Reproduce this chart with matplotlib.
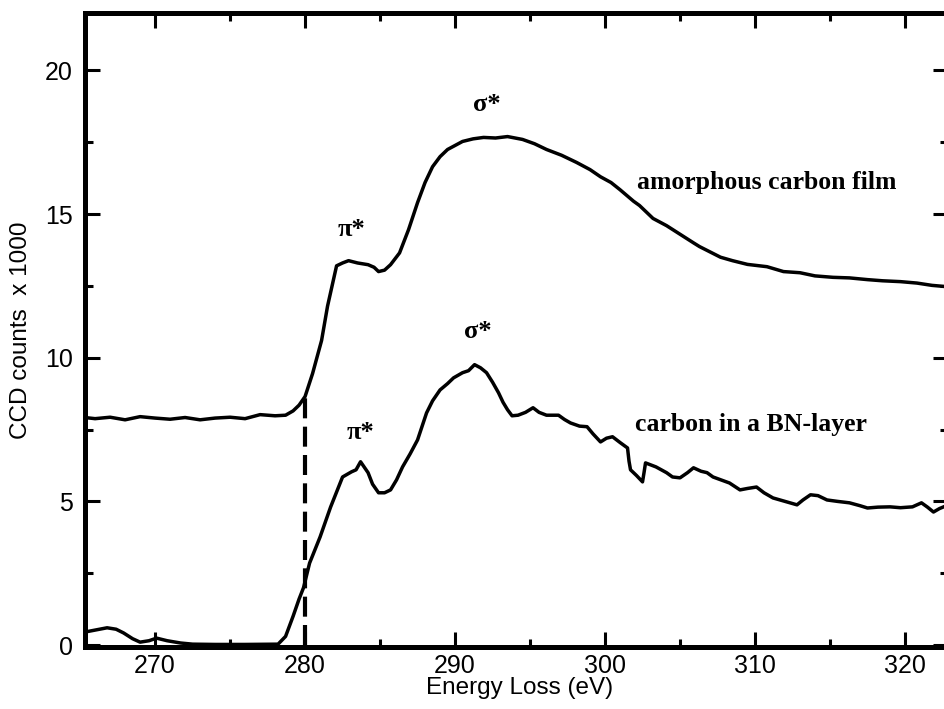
import numpy as np
from matplotlib import pyplot as plt
from matplotlib.ticker import MultipleLocator

plt.rcParams['font.family'] = ['Liberation Sans', 'DejaVu Sans']

# amorphous carbon film (upper curve), energy in eV, counts in 1000
ac_energy = [265.3, 266.0, 267.0, 268.0, 269.0, 270.0, 271.0, 272.0, 273.0, 274.0,
             275.0, 276.0, 277.0, 278.0, 278.7, 279.2, 279.6, 280.0, 280.5, 281.1,
             281.5, 281.8, 282.1, 282.5, 282.9, 283.5, 284.2, 284.6, 284.9, 285.3,
             285.7, 286.3, 286.9, 287.5, 288.0, 288.5, 289.0, 289.5, 290.5, 291.2,
             291.9, 292.7, 293.5, 294.5, 295.3, 296.1, 297.1, 298.1, 299.0, 299.7,
             300.4, 301.0, 301.9, 302.3, 303.2, 304.1, 305.0, 305.9, 306.3, 307.7,
             308.5, 309.5, 310.8, 311.9, 313.0, 314.0, 315.2, 316.3, 317.5, 318.5,
             319.7, 320.8, 321.8, 322.9]
ac_counts = [7.92, 7.88, 7.93, 7.84, 7.95, 7.90, 7.86, 7.92, 7.84, 7.90,
             7.93, 7.88, 8.02, 7.98, 8.00, 8.15, 8.35, 8.65, 9.45, 10.6,
             11.8, 12.5, 13.2, 13.3, 13.38, 13.3, 13.24, 13.15, 13.0, 13.05,
             13.24, 13.65, 14.46, 15.4, 16.1, 16.65, 17.0, 17.25, 17.53, 17.62,
             17.67, 17.65, 17.7, 17.6, 17.45, 17.25, 17.05, 16.8, 16.55, 16.3,
             16.1, 15.85, 15.45, 15.3, 14.85, 14.6, 14.3, 14.0, 13.87, 13.5,
             13.38, 13.25, 13.17, 13.0, 12.96, 12.85, 12.8, 12.78, 12.72, 12.68,
             12.65, 12.6, 12.52, 12.47]

# carbon in a BN-layer (lower curve)
bn_energy = [265.3, 266.0, 266.8, 267.4, 267.9, 268.5, 269.0, 269.6, 270.1, 270.8,
             271.7, 272.5, 274.0, 276.0, 278.2, 278.7, 279.2, 279.6, 279.9, 280.3,
             281.0, 281.7, 282.5, 283.1, 283.4, 283.7, 284.2, 284.5, 284.9, 285.3,
             285.7, 286.1, 286.5, 287.0, 287.5, 288.1, 288.5, 289.0, 289.5, 289.9,
             290.5, 290.9, 291.3, 291.7, 292.1, 292.5, 292.9, 293.2, 293.5, 293.8,
             294.2, 294.7, 295.2, 295.6, 296.1, 296.9, 297.3, 297.7, 298.3, 298.8,
             299.2, 299.7, 300.1, 300.5, 301.0, 301.5, 301.6, 301.7, 302.1, 302.5,
             302.6, 302.7, 303.4, 304.1, 304.5, 305.0, 305.5, 305.9, 306.4, 306.8,
             307.2, 308.3, 309.0, 309.5, 310.1, 310.6, 311.2, 312.0, 312.8, 313.2,
             313.7, 314.2, 314.8, 315.5, 316.3, 317.0, 317.5, 318.2, 319.0, 319.7,
             320.5, 321.1, 321.5, 321.9, 322.3, 322.9]
bn_counts = [0.45, 0.52, 0.60, 0.55, 0.42, 0.22, 0.10, 0.15, 0.24, 0.15,
             0.07, 0.03, 0.02, 0.02, 0.03, 0.30, 1.00, 1.60, 2.00, 2.85,
             3.76, 4.80, 5.85, 6.03, 6.10, 6.38, 6.00, 5.60, 5.30, 5.30,
             5.40, 5.75, 6.20, 6.65, 7.14, 8.08, 8.50, 8.88, 9.10, 9.30,
             9.48, 9.55, 9.76, 9.65, 9.48, 9.15, 8.78, 8.45, 8.19, 7.98,
             8.00, 8.10, 8.26, 8.10, 8.00, 8.00, 7.85, 7.73, 7.62, 7.60,
             7.35, 7.07, 7.20, 7.25, 7.05, 6.86, 6.40, 6.10, 5.90, 5.68,
             6.00, 6.34, 6.20, 6.00, 5.85, 5.82, 6.00, 6.17, 6.05, 6.00,
             5.85, 5.64, 5.40, 5.45, 5.50, 5.30, 5.12, 5.00, 4.88, 5.05,
             5.23, 5.20, 5.05, 5.00, 4.95, 4.85, 4.77, 4.80, 4.81, 4.78,
             4.81, 4.95, 4.80, 4.63, 4.75, 4.88]

# edge onset marker
onset_energy = 280.0
onset_top = 8.6

fig = plt.figure(figsize=(9.45, 7.09), dpi=100)
ax = fig.add_axes([0.09, 0.0874, 0.9132, 0.8942])

ax.plot(ac_energy, ac_counts, color='black', lw=2.5)
ax.plot(bn_energy, bn_counts, color='black', lw=2.5)
ax.vlines(onset_energy, 0, onset_top, colors='black', lw=3, linestyles=(0, (4.8, 2.0)))

ax.set_xlim(265.33, 322.87)
ax.set_ylim(-0.07, 22.0)

ax.xaxis.set_major_locator(MultipleLocator(10))
ax.xaxis.set_minor_locator(MultipleLocator(5))
ax.yaxis.set_major_locator(MultipleLocator(5))
ax.yaxis.set_minor_locator(MultipleLocator(2.5))

ax.tick_params(which='both', direction='in', top=True, right=True, width=2.2,
               labelsize=18)
ax.tick_params(which='major', length=11)
ax.tick_params(which='minor', length=6)
ax.tick_params(axis='y', pad=9)
ax.tick_params(axis='x', pad=5)

for s in ax.spines.values():
    s.set_linewidth(3.6)

ax.set_xlabel('Energy Loss (eV)', fontsize=17.5)
ax.set_ylabel('CCD counts  x 1000', fontsize=17.5)
ax.xaxis.set_label_coords(0.503, -0.047)
ax.yaxis.set_label_coords(-0.061, 0.5)

serif = dict(family='Liberation Serif', fontweight='bold', fontsize=18.5,
             ha='center', va='center')
sym = dict(serif, fontsize=19)
ax.text(292.1, 18.8, 'σ*', **sym)
ax.text(283.1, 14.46, 'π*', **sym)
ax.text(291.5, 10.9, 'σ*', **sym)
ax.text(283.7, 7.4, 'π*', **sym)
ax.text(310.8, 16.1, 'amorphous carbon film', **serif)
ax.text(309.7, 7.67, 'carbon in a BN-layer', **serif)

fig.savefig('out.png', dpi=100)
